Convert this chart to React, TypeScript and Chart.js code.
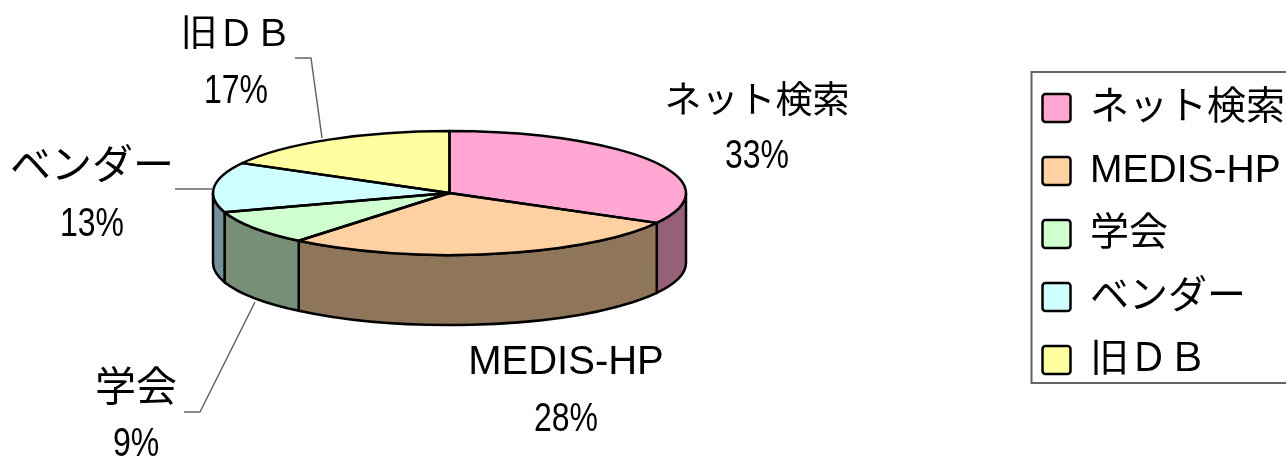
import React, { useEffect, useRef } from "react";
import { Chart, registerables } from "chart.js";

Chart.register(...registerables);

const categories = ["ネット検索", "MEDIS-HP", "学会", "ベンダー", "旧ＤＢ"];
const shares = [33, 28, 9, 13, 17];
const topColors = ["#FFA6D2", "#FFD0A2", "#D0FFD0", "#D0FFFF", "#FFFFA2"];
const sideColors = ["#956078", "#8F7559", "#778F76", "#76909A", "#8F8F59"];

const FONT_STACK = '"Liberation Sans", "Noto Sans CJK JP", sans-serif';
const PIE = { cx: 449.5, cy: 193, rx: 236.5, ry: 62, depth: 70 };
const LEGEND_BOX = { x: 1031.5, y: 72, w: 300, h: 311 };

const labelSpots = [
  { x: 757, nameY: 103, pctY: 157, size: 37 },
  { x: 566, nameY: 363, pctY: 420, size: 40 },
  { x: 136, nameY: 390, pctY: 445, size: 41 },
  { x: 92, nameY: 168, pctY: 225, size: 41 },
  { x: 236, nameY: 36, pctY: 92, size: 37 },
];

const leaderLines = [
  [[295, 58], [311, 58], [322, 138]],
  [[175, 189], [213, 189]],
  [[184, 412], [200, 412], [255, 302]],
];

const pie3d = {
  id: "pie3d",
  beforeDraw(chart: any) {
    const { ctx } = chart;
    ctx.save();
    ctx.fillStyle = "#fff";
    ctx.fillRect(0, 0, chart.width, chart.height);
    ctx.strokeStyle = "#666";
    ctx.lineWidth = 2;
    ctx.strokeRect(LEGEND_BOX.x, LEGEND_BOX.y, LEGEND_BOX.w, LEGEND_BOX.h);
    ctx.restore();
  },
  beforeDatasetsDraw(chart: any) {
    const { ctx } = chart;
    const arcs = chart.getDatasetMeta(0).data;
    const { cx, cy, rx, ry, depth } = PIE;
    ctx.save();
    ctx.lineWidth = 2.5;
    ctx.strokeStyle = "#000";
    arcs.forEach((arc: any, i: number) => {
      const s = arc.startAngle;
      const e = arc.endAngle;
      const spans = [
        [Math.max(s, 0), Math.min(e, Math.PI)],
        [Math.max(s - 2 * Math.PI, 0), Math.min(e - 2 * Math.PI, Math.PI)],
      ];
      for (const [a, b] of spans) {
        if (b <= a) continue;
        ctx.beginPath();
        ctx.ellipse(cx, cy, rx, ry, 0, a, b);
        ctx.ellipse(cx, cy + depth, rx, ry, 0, b, a, true);
        ctx.closePath();
        ctx.fillStyle = sideColors[i];
        ctx.fill();
        ctx.stroke();
      }
    });
    ctx.restore();
    const first = arcs[0];
    const R = first.outerRadius;
    ctx.save();
    ctx.translate(cx, cy);
    ctx.scale(rx / R, ry / R);
    ctx.translate(-first.x, -first.y);
  },
  afterDatasetsDraw(chart: any) {
    const { ctx } = chart;
    ctx.restore();
    const arcs = chart.getDatasetMeta(0).data;
    const { cx, cy, rx, ry } = PIE;
    ctx.save();
    ctx.lineWidth = 2.5;
    ctx.strokeStyle = "#000";
    ctx.lineJoin = "round";
    arcs.forEach((arc: any) => {
      ctx.beginPath();
      ctx.moveTo(cx, cy);
      ctx.ellipse(cx, cy, rx, ry, 0, arc.startAngle, arc.endAngle);
      ctx.closePath();
      ctx.stroke();
    });
    ctx.strokeStyle = "#666";
    ctx.lineWidth = 1.5;
    leaderLines.forEach((line) => {
      ctx.beginPath();
      line.forEach(([x, y], i) => (i ? ctx.lineTo(x, y) : ctx.moveTo(x, y)));
      ctx.stroke();
    });
    ctx.fillStyle = "#000";
    ctx.textAlign = "center";
    ctx.textBaseline = "middle";
    categories.forEach((name, i) => {
      const spot = labelSpots[i];
      ctx.font = `${spot.size}px ${FONT_STACK}`;
      ctx.fillText(name, spot.x, spot.nameY);
      ctx.font = `40px ${FONT_STACK}`;
      const pct = `${shares[i]}%`;
      ctx.fillText(pct, spot.x, spot.pctY, ctx.measureText(pct).width * 0.8);
    });
    ctx.restore();
  },
};

export default function App() {
  const ref = useRef<HTMLCanvasElement>(null);
  useEffect(() => {
    document.body.style.margin = "0";
    document.body.style.overflow = "hidden";
    const chart = new Chart(ref.current as HTMLCanvasElement, {
      type: "pie",
      data: {
        labels: categories,
        datasets: [
          {
            data: shares,
            backgroundColor: topColors,
            borderWidth: 0,
            clip: false,
          } as any,
        ],
      },
      options: {
        responsive: false,
        devicePixelRatio: 1,
        animation: false,
        layout: { padding: { top: 10, right: -9, bottom: 0, left: 0 } },
        plugins: {
          tooltip: { enabled: false },
          legend: {
            display: true,
            position: "right",
            align: "center",
            labels: {
              boxWidth: 28,
              boxHeight: 28,
              padding: 24,
              color: "#000",
              font: { size: 39, family: FONT_STACK },
              useBorderRadius: true,
              borderRadius: 3,
              generateLabels() {
                return categories.map((text, i) => ({
                  text,
                  fillStyle: topColors[i],
                  strokeStyle: "#000",
                  lineWidth: 2.5,
                  hidden: false,
                  index: i,
                  borderRadius: 3,
                }));
              },
            },
          },
        },
      } as any,
      plugins: [pie3d],
    });
    return () => chart.destroy();
  }, []);
  return (
    <div style={{ width: 1286, height: 458 }}>
      <canvas ref={ref} width={1286} height={458} style={{ display: "block" }} />
    </div>
  );
}
